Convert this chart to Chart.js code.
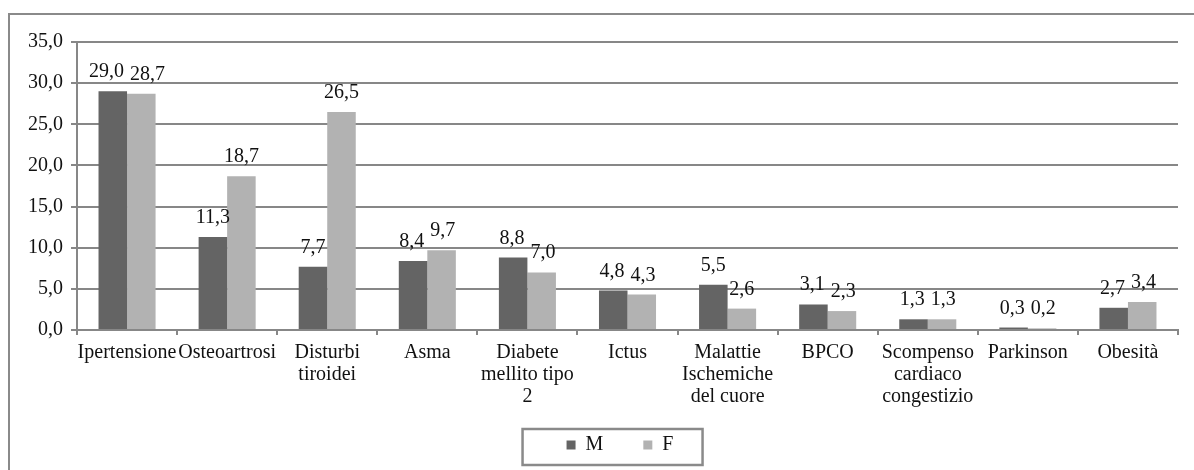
<!DOCTYPE html>
<html>
<head>
<meta charset="utf-8">
<script src="https://cdn.jsdelivr.net/npm/chart.js@4/dist/chart.umd.min.js"></script>
<style>
  html, body { margin: 0; padding: 0; background: #ffffff; overflow: hidden; }
  #wrap { width: 1194px; height: 470px; position: relative; }
</style>
</head>
<body>
<div id="wrap"><canvas id="chart" width="1194" height="470"></canvas></div>
<script>
// Prevalenza delle patologie croniche per sesso (%)
const categories = [
  'Ipertensione',
  'Osteoartrosi',
  ['Disturbi', 'tiroidei'],
  'Asma',
  ['Diabete', 'mellito tipo', '2'],
  'Ictus',
  ['Malattie', 'Ischemiche', 'del cuore'],
  'BPCO',
  ['Scompenso', 'cardiaco', 'congestizio'],
  'Parkinson',
  'Obesità'
];
const seriesNames = ['M', 'F'];
const valuesM = [29.0, 11.3, 7.7, 8.4, 8.8, 4.8, 5.5, 3.1, 1.3, 0.3, 2.7];
const valuesF = [28.7, 18.7, 26.5, 9.7, 7.0, 4.3, 2.6, 2.3, 1.3, 0.2, 3.4];
const yMin = 0;
const yMax = 35;
const yStep = 5;

const FONT = 'Liberation Serif, "Times New Roman", serif';
const FONT_SIZE = 20;
const GRID = '#878787';
const TEXT = '#111111';
const LEGEND_PAD = 20;
const LEGEND_SHIFT = 31;

const fmt = v => Number(v).toFixed(1).replace('.', ',');

// Outer frame of the chart object (left and top edges are visible)
const framePlugin = {
  id: 'frame',
  beforeDraw(chart) {
    const ctx = chart.ctx;
    ctx.save();
    ctx.fillStyle = '#ffffff';
    ctx.fillRect(0, 0, chart.width, chart.height);
    ctx.strokeStyle = '#8a8a8a';
    ctx.lineWidth = 2;
    ctx.strokeRect(9, 14, chart.width + 20, chart.height + 20);
    ctx.restore();
  }
};

// The frame is wider than the canvas, so its legend sits a little right of the canvas centre
const legendShiftPlugin = {
  id: 'legendShift',
  afterLayout(chart) {
    const lg = chart.legend;
    if (!lg) return;
    lg.left += LEGEND_SHIFT;
    lg.right += LEGEND_SHIFT;
  }
};

// Bordered box around the legend entries
const legendBoxPlugin = {
  id: 'legendBox',
  afterDraw(chart) {
    const lg = chart.legend;
    if (!lg || !lg.lineWidths) return;
    const start = (lg.left + LEGEND_PAD + lg.right - lg.lineWidths[0]) / 2;
    const cy = lg.top + LEGEND_PAD + FONT_SIZE / 2 + 2;
    const ctx = chart.ctx;
    ctx.save();
    ctx.strokeStyle = '#8a8a8a';
    ctx.lineWidth = 2.5;
    ctx.strokeRect(start - 44, cy - 18, 180, 36);
    ctx.restore();
  }
};

// Value labels above each bar; neighbouring labels that would collide are pushed apart
const valueLabelPlugin = {
  id: 'valueLabels',
  afterDatasetsDraw(chart) {
    const ctx = chart.ctx;
    ctx.save();
    ctx.font = FONT_SIZE + 'px ' + FONT;
    ctx.fillStyle = TEXT;
    ctx.textAlign = 'center';
    ctx.textBaseline = 'alphabetic';
    const metaM = chart.getDatasetMeta(0);
    const metaF = chart.getDatasetMeta(1);
    const dsM = chart.data.datasets[0].data;
    const dsF = chart.data.datasets[1].data;
    for (let i = 0; i < dsM.length; i++) {
      const a = metaM.data[i], b = metaF.data[i];
      const ta = fmt(dsM[i]), tb = fmt(dsF[i]);
      const wa = ctx.measureText(ta).width, wb = ctx.measureText(tb).width;
      let xa = a.x, xb = b.x;
      const ya = a.y - 14, yb = b.y - 14;
      const need = (wa + wb) / 2 + 6;
      if (Math.abs(ya - yb) < FONT_SIZE && (xb - xa) < need) {
        const shift = (need - (xb - xa)) / 2;
        xa -= shift;
        xb += shift;
      }
      ctx.fillText(ta, xa, ya);
      ctx.fillText(tb, xb, yb);
    }
    ctx.restore();
  }
};

new Chart(document.getElementById('chart'), {
  type: 'bar',
  data: {
    labels: categories,
    datasets: [
      {
        label: seriesNames[0],
        data: valuesM,
        backgroundColor: '#646464',
        borderWidth: 0,
        categoryPercentage: 0.57,
        barPercentage: 1.0
      },
      {
        label: seriesNames[1],
        data: valuesF,
        backgroundColor: '#b2b2b2',
        borderWidth: 0,
        categoryPercentage: 0.57,
        barPercentage: 1.0
      }
    ]
  },
  options: {
    responsive: false,
    animation: false,
    devicePixelRatio: 1,
    layout: { padding: { top: 42, right: 16, bottom: 5, left: 0 } },
    plugins: {
      tooltip: { enabled: false },
      legend: {
        position: 'bottom',
        align: 'center',
        labels: {
          boxWidth: 9,
          boxHeight: 9,
          padding: LEGEND_PAD,
          color: TEXT,
          font: { family: FONT, size: FONT_SIZE },
          // widen the gap between the two entries with an em space after each name but the last
          generateLabels(chart) {
            const items = Chart.defaults.plugins.legend.labels.generateLabels(chart);
            items.forEach((it, i) => { if (i < items.length - 1) it.text += '\u2003'; });
            return items;
          }
        }
      }
    },
    scales: {
      x: {
        grid: {
          display: true,
          drawOnChartArea: false,
          drawTicks: true,
          tickLength: 5,
          offset: true,
          color: GRID,
          lineWidth: 2
        },
        border: { display: true, color: GRID, width: 2 },
        ticks: {
          autoSkip: false,
          maxRotation: 0,
          minRotation: 0,
          padding: 7,
          color: TEXT,
          font: { family: FONT, size: FONT_SIZE, lineHeight: 1.1 }
        }
      },
      y: {
        min: yMin,
        max: yMax,
        grid: {
          color: GRID,
          lineWidth: 2,
          tickLength: 6
        },
        border: { display: true, color: GRID, width: 2 },
        ticks: {
          stepSize: yStep,
          padding: 8,
          color: TEXT,
          font: { family: FONT, size: FONT_SIZE },
          callback: v => fmt(v)
        },
        afterFit(scale) { scale.width = 77; }
      }
    }
  },
  plugins: [framePlugin, legendShiftPlugin, legendBoxPlugin, valueLabelPlugin]
});
</script>
</body>
</html>
